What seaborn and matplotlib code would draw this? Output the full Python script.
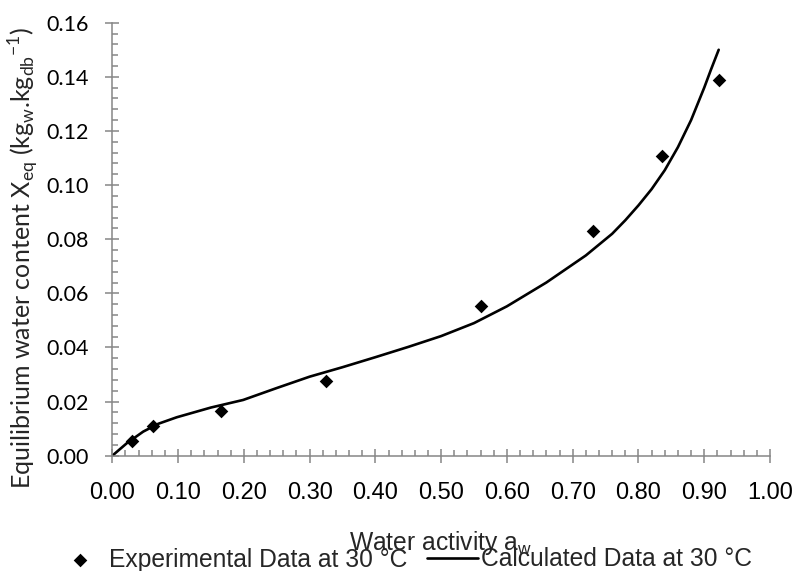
import matplotlib
matplotlib.use("Agg")
import matplotlib.pyplot as plt
import seaborn as sns
import pandas as pd
from matplotlib.ticker import MultipleLocator, FormatStrFormatter

# Experimental data
exp_aw = [0.0295, 0.0614, 0.166, 0.3245, 0.5606, 0.731, 0.836, 0.922]
exp_x = [0.0054, 0.0111, 0.0165, 0.0276, 0.0554, 0.0831, 0.1109, 0.1390]

# Calculated model curve
calc_aw = [0.0, 0.022, 0.047, 0.07, 0.098, 0.15, 0.199, 0.25, 0.30, 0.35, 0.40, 0.45, 0.50,
           0.55, 0.60, 0.66, 0.72, 0.76, 0.78, 0.80, 0.82, 0.84, 0.86, 0.88, 0.90, 0.91, 0.922]
calc_x = [0.0, 0.0046, 0.0089, 0.0118, 0.0142, 0.0178, 0.0206, 0.0250, 0.0292, 0.0327, 0.0364,
          0.0402, 0.0442, 0.0490, 0.0552, 0.0640, 0.0740, 0.0820, 0.0870, 0.0925, 0.0985,
          0.1055, 0.1140, 0.1240, 0.1360, 0.1425, 0.1500]

exp_df = pd.DataFrame({"aw": exp_aw, "X": exp_x})
calc_df = pd.DataFrame({"aw": calc_aw, "X": calc_x})

sns.set_theme(style="ticks")
plt.rcParams["font.family"] = ["Liberation Sans", "DejaVu Sans"]

W, H = 795, 571
fig = plt.figure(figsize=(W / 100, H / 100), dpi=100)
ax = fig.add_axes([112.3 / W, 1 - 455.7 / H, (770 - 112.3) / W, (455.7 - 22.7) / H])

sns.scatterplot(data=exp_df, x="aw", y="X", ax=ax, marker="D", s=48, color="black",
                edgecolor="black", linewidth=0, label="Experimental Data at 30 \u00b0C", zorder=3)
sns.lineplot(data=calc_df, x="aw", y="X", ax=ax, color="black", linewidth=1.9,
             sort=False, estimator=None, label="Calculated Data at 30 \u00b0C", zorder=2)

ax.set_xlim(0, 1.0)
ax.set_ylim(0, 0.16)
ax.xaxis.set_major_locator(MultipleLocator(0.1))
ax.xaxis.set_minor_locator(MultipleLocator(0.02))
ax.yaxis.set_major_locator(MultipleLocator(0.02))
ax.yaxis.set_minor_locator(MultipleLocator(0.004))
ax.xaxis.set_major_formatter(FormatStrFormatter("%.2f"))
ax.yaxis.set_major_formatter(FormatStrFormatter("%.2f"))

gray = "#868686"
for s in ["top", "right"]:
    ax.spines[s].set_visible(False)
for s in ["left", "bottom"]:
    ax.spines[s].set_color(gray)
    ax.spines[s].set_linewidth(1.1)

ax.tick_params(which="both", bottom=True, left=True, top=False, right=False)
ax.tick_params(which="major", direction="inout", length=10, width=1.1, color=gray)
ax.tick_params(which="minor", direction="in", length=4.5, width=1.1, color=gray)
ax.tick_params(axis="x", which="major", pad=14, labelsize=17, labelcolor="black")
ax.tick_params(axis="y", which="major", pad=12, labelsize=15.5, labelcolor="black")
for lab in ax.get_yticklabels():
    lab.set_fontfamily(["Lato", "DejaVu Sans"])
ax.set_xlabel("")
ax.set_ylabel("")

fig.text(24 / W, 1 - 258 / H,
         "Equilibrium water content X$_{\\mathregular{eq}}$ (kg$_{\\mathregular{w}}$.kg$_{\\mathregular{db}}$$^{\\mathregular{-1}}$)",
         rotation=90, ha="center", va="center", fontsize=18, family=["Lato", "DejaVu Sans"])
fig.text(441 / W, 1 - 550 / H, "Water activity a$_{\\mathregular{w}}$",
         ha="center", va="baseline", fontsize=17.7)

handles, labels = ax.get_legend_handles_labels()
if ax.legend_:
    ax.legend_.remove()
fig.legend(handles, labels, loc="center left", bbox_to_anchor=(55 / W, 1 - 559.5 / H),
           ncol=2, frameon=False, fontsize=17.7, handlelength=2.07, handletextpad=0.12,
           columnspacing=0.8, borderpad=0, borderaxespad=0)

fig.savefig("out.png", dpi=100, facecolor="white")
